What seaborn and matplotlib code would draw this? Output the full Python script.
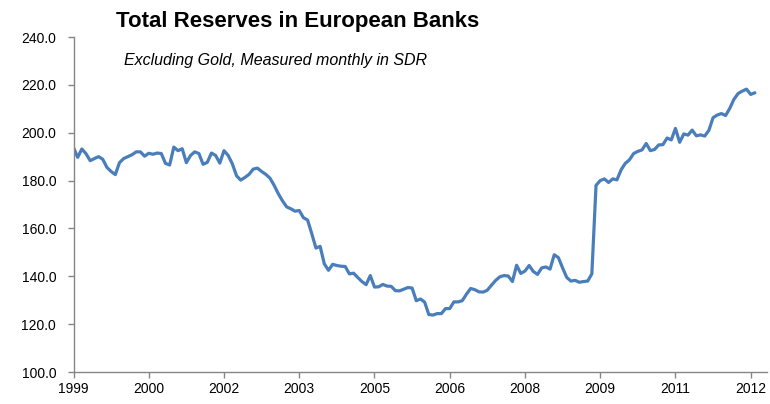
import matplotlib
matplotlib.use("Agg")
import matplotlib.pyplot as plt
import seaborn as sns
import pandas as pd
import numpy as np

# Monthly total reserves (Jan 1999 onward)
reserves = [
    193.8, 189.7, 193.2, 191.2, 188.3, 189.2, 190.0, 188.9, 185.5, 183.8,
    182.5, 187.5, 189.2, 190.0, 190.8, 192.0, 192.0, 190.2, 191.4, 191.0,
    191.5, 191.3, 187.2, 186.5, 194.0, 192.5, 193.3, 187.5, 190.5, 192.0,
    191.3, 186.8, 187.6, 191.5, 190.5, 187.3, 192.5, 190.5, 187.0, 182.0,
    180.2, 181.3, 182.6, 184.8, 185.2, 183.8, 182.6, 181.0, 178.0, 174.5,
    171.5, 169.0, 168.2, 167.2, 167.5, 164.5, 163.5, 157.8, 151.8, 152.5,
    145.2, 142.5, 145.0, 144.5, 144.2, 144.1, 141.0, 141.3, 139.5, 137.8,
    136.5, 140.3, 135.5, 135.6, 136.6, 135.9, 135.8, 134.0, 133.9, 134.6,
    135.3, 135.1, 129.8, 130.5, 129.2, 124.0, 123.8, 124.4, 124.4, 126.5,
    126.5, 129.3, 129.3, 129.8, 132.5, 134.9, 134.4, 133.5, 133.4, 134.2,
    136.3, 138.3, 139.8, 140.3, 140.1, 137.8, 144.6, 141.2, 142.2, 144.5,
    142.0, 140.8, 143.5, 143.9, 143.0, 149.0, 147.8, 143.5, 139.5, 138.0,
    138.3, 137.5, 137.8, 138.0, 141.0, 178.0, 180.0, 180.7, 179.2, 180.7,
    180.3, 184.5, 187.2, 188.7, 191.3, 192.2, 192.8, 195.5, 192.5, 193.0,
    194.9, 195.0, 197.8, 197.0, 201.8, 196.0, 199.5, 199.0, 201.1, 198.7,
    199.1, 198.6, 201.0, 206.3, 207.4, 208.0, 207.2, 210.2, 214.0, 216.4,
    217.4, 218.2, 216.0, 216.7,
]
months = list(range(len(reserves)))

tick_months = [0, 18, 36, 54, 72, 90, 108, 126, 144, 162]
tick_labels = ["1999", "2000", "2002", "2003", "2005", "2006", "2008", "2009", "2011", "2012"]
y_ticks = [100, 120, 140, 160, 180, 200, 220, 240]

title = "Total Reserves in European Banks"
subtitle = "Excluding Gold, Measured monthly in SDR"

df = pd.DataFrame({"month": months, "reserves": reserves})

sns.set_style("ticks")
plt.rcParams["font.family"] = ["Liberation Sans", "DejaVu Sans"]

fig = plt.figure(figsize=(7.7, 4.04), dpi=100)
ax = fig.add_axes([73.5 / 770, 1 - 372 / 404, (767 - 73.5) / 770, (372 - 37) / 404])

sns.lineplot(data=df, x="month", y="reserves", ax=ax, color="#4a7ebb", linewidth=2.3)

ax.set_xlim(0, 165.9)
ax.set_ylim(100, 240)
ax.set_xticks(tick_months)
ax.set_xticklabels(tick_labels)
ax.set_yticks(y_ticks)
ax.set_yticklabels([f"{v:.1f}" for v in y_ticks])
ax.set_xlabel("")
ax.set_ylabel("")

for s in ["top", "right"]:
    ax.spines[s].set_visible(False)
for s in ["left", "bottom"]:
    ax.spines[s].set_color("#868686")
    ax.spines[s].set_linewidth(1.0)
ax.tick_params(axis="both", colors="#868686", labelcolor="black", labelsize=10,
               length=4.5, width=1.0, direction="out")
ax.tick_params(axis="x", pad=2.5)
ax.tick_params(axis="y", pad=8)

fig.text(298 / 770, 1 - 22 / 404, title, ha="center", va="center",
         fontsize=16, fontweight="bold", color="black")
fig.text(276 / 770, 1 - 61 / 404, subtitle, ha="center", va="center",
         fontsize=11.5, fontstyle="italic", color="black")

fig.savefig("out.png", dpi=100, facecolor="white")
